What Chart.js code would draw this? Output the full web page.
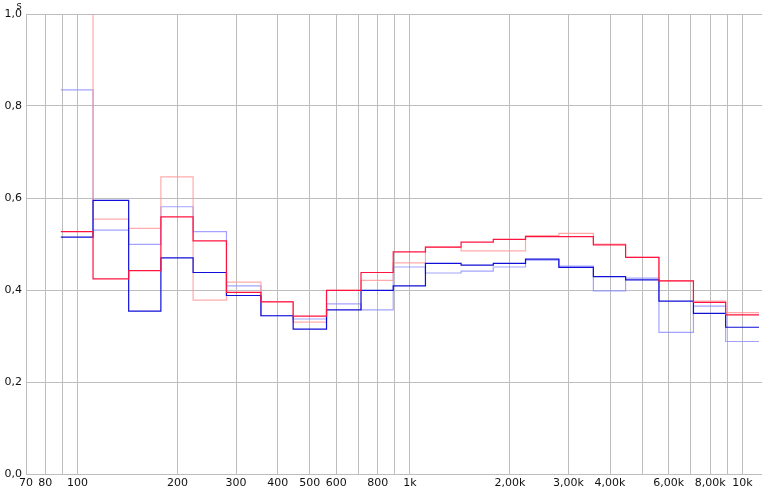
<!DOCTYPE html>
<html>
<head>
<meta charset="utf-8">
<script src="https://cdn.jsdelivr.net/npm/chart.js@4/dist/chart.umd.min.js"></script>
<style>
  html, body { margin: 0; padding: 0; background: #fff; }
</style>
</head>
<body>
<canvas id="chart" width="762" height="491"></canvas>
<script>
// third-octave band centres (Hz)
const bands = [100, 125, 160, 200, 250, 315, 400, 500, 630, 800, 1000,
  1250, 1600, 2000, 2500, 3150, 4000, 5000, 6300, 8000, 10000];

// reverberation time per band (s)
const redVals = [0.527, 0.424, 0.442, 0.559, 0.507, 0.395, 0.374, 0.343, 0.399, 0.438, 0.483,
  0.493, 0.504, 0.510, 0.516, 0.516, 0.498, 0.471, 0.420, 0.373, 0.346];
const pinkVals = [1.2, 0.554, 0.534, 0.646, 0.378, 0.417, 0.375, 0.330, 0.399, 0.421, 0.459,
  0.493, 0.485, 0.485, 0.518, 0.523, 0.500, 0.471, 0.420, 0.376, 0.351];
const blueVals = [0.515, 0.595, 0.354, 0.470, 0.438, 0.388, 0.344, 0.315, 0.357, 0.399, 0.409,
  0.458, 0.454, 0.458, 0.467, 0.449, 0.429, 0.422, 0.376, 0.349, 0.319];
const lightBlueVals = [0.835, 0.530, 0.499, 0.581, 0.527, 0.409, 0.344, 0.337, 0.370, 0.357, 0.450,
  0.437, 0.441, 0.450, 0.465, 0.452, 0.398, 0.426, 0.308, 0.365, 0.288];

const tickValues = [70, 80, 90, 100, 200, 300, 400, 500, 600, 700, 800, 900,
  1000, 2000, 3000, 4000, 5000, 6000, 7000, 8000, 9000, 10000];
const tickLabels = ["70", "80", "", "100", "200", "300", "400", "500", "600", "", "800", "",
  "1k", "2,00k", "3,00k", "4,00k", "", "6,00k", "", "8,00k", "", "10k"];

// each band drawn as a step from its lower edge to its upper edge
function steps(vals) {
  const pts = bands.map((f, i) => ({ x: f * Math.pow(2, -1 / 6), y: vals[i] }));
  pts.push({ x: bands[bands.length - 1] * Math.pow(2, 1 / 6), y: vals[vals.length - 1] });
  return pts;
}

function line(vals, color) {
  return {
    data: steps(vals),
    borderColor: color,
    borderWidth: 1.2,
    pointRadius: 0,
    stepped: true,
    fill: false
  };
}

const unitLabel = {
  id: "unitLabel",
  afterDraw(c) {
    const ctx = c.ctx;
    ctx.save();
    ctx.font = "10px 'DejaVu Sans'";
    ctx.fillStyle = "#111";
    ctx.textAlign = "center";
    ctx.fillText("s", 19, 9);
    ctx.restore();
  }
};

const gridColor = "#bdbdbd";
const tickFont = { family: "DejaVu Sans", size: 11 };

new Chart(document.getElementById("chart"), {
  type: "line",
  data: {
    datasets: [
      line(redVals, "rgb(255,20,65)"),
      line(blueVals, "rgb(15,15,215)"),
      line(pinkVals, "rgba(255,150,150,0.8)"),
      line(lightBlueVals, "rgba(140,140,255,0.8)")
    ]
  },
  options: {
    responsive: false,
    animation: false,
    layout: { padding: { top: 14, right: 0, left: 0, bottom: 0 } },
    plugins: { legend: { display: false }, tooltip: { enabled: false } },
    scales: {
      x: {
        type: "logarithmic",
        min: 70,
        max: 11460,
        afterBuildTicks: s => { s.ticks = tickValues.map(v => ({ value: v })); },
        afterFit: s => { s.height = 17; },
        ticks: {
          autoSkip: false,
          maxRotation: 0,
          padding: 3,
          color: "#111",
          font: tickFont,
          callback: (v, i) => tickLabels[i]
        },
        grid: { color: gridColor, drawTicks: false },
        border: { color: gridColor }
      },
      y: {
        min: 0,
        max: 1.0,
        afterFit: s => { s.width = 26; },
        ticks: {
          stepSize: 0.2,
          padding: 4,
          color: "#111",
          font: tickFont,
          callback: v => v.toFixed(1).replace(".", ",")
        },
        grid: { color: gridColor, drawTicks: false },
        border: { color: gridColor }
      }
    }
  },
  plugins: [unitLabel]
});
</script>
</body>
</html>
